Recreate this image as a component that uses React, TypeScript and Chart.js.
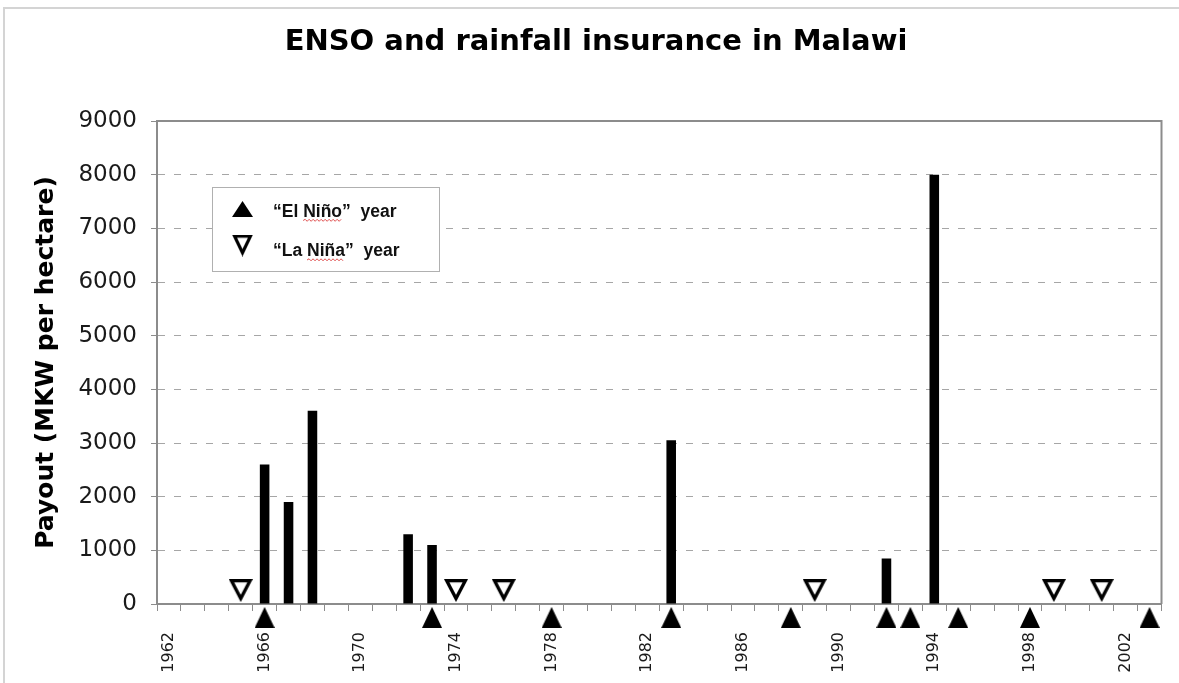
import React, { useEffect, useRef } from 'react';
import { Chart, registerables } from 'chart.js';

Chart.register(...registerables);

const categories = [
  '1962', '1963', '1964', '1965', '1966', '1967', '1968', '1969', '1970', '1971',
  '1972', '1973', '1974', '1975', '1976', '1977', '1978', '1979', '1980', '1981',
  '1982', '1983', '1984', '1985', '1986', '1987', '1988', '1989', '1990', '1991',
  '1992', '1993', '1994', '1995', '1996', '1997', '1998', '1999', '2000', '2001',
  '2002', '2003',
];
const payoutYears = ['1966', '1967', '1968', '1972', '1973', '1983', '1992', '1994'];
const payoutValues = [2600, 1900, 3600, 1300, 1100, 3050, 850, 8000];
const elNinoYears = ['1966', '1973', '1978', '1983', '1988', '1992', '1993', '1995', '1998', '2003'];
const laNinaYears = ['1965', '1974', '1976', '1989', '1999', '2001'];
const elNinoLevel = -250;
const laNinaLevel = 250;
const labelEvery = 4;

const titleText = 'ENSO and rainfall insurance in Malawi';
const yTitleText = 'Payout (MKW per hectare)';
const elNinoPre = '\u201CEl ';
const elNinoWord = 'Ni\u00F1o';
const elNinoPost = '\u201D  year';
const laNinaPre = '\u201CLa ';
const laNinaWord = 'Ni\u00F1a';
const laNinaPost = '\u201D  year';

function upTriangle(w: number, h: number): HTMLCanvasElement {
  const c = document.createElement('canvas');
  c.width = w;
  c.height = h;
  const g = c.getContext('2d')!;
  g.fillStyle = '#000';
  g.beginPath();
  g.moveTo(w / 2, 0);
  g.lineTo(w, h);
  g.lineTo(0, h);
  g.closePath();
  g.fill();
  return c;
}

function downTriangleOutline(w: number, h: number, lw: number): HTMLCanvasElement {
  const c = document.createElement('canvas');
  c.width = w;
  c.height = h;
  const g = c.getContext('2d')!;
  g.fillStyle = '#000';
  g.beginPath();
  g.moveTo(0, 0);
  g.lineTo(w, 0);
  g.lineTo(w / 2, h);
  g.closePath();
  g.fill();
  const side = Math.sqrt((w / 2) * (w / 2) + h * h);
  const s = (w + 2 * side) / 2;
  const r = (w * h) / 2 / s;
  const k = (r - lw) / r;
  const cx = w / 2;
  const cy = r;
  g.globalCompositeOperation = 'destination-out';
  g.beginPath();
  g.moveTo(cx + (0 - cx) * k, cy + (0 - cy) * k);
  g.lineTo(cx + (w - cx) * k, cy + (0 - cy) * k);
  g.lineTo(cx + (w / 2 - cx) * k, cy + (h - cy) * k);
  g.closePath();
  g.fill();
  return c;
}

function drawLegendLine(ctx: CanvasRenderingContext2D, x: number, y: number, pre: string, word: string, post: string) {
  ctx.fillText(pre + word + post, x, y);
  const x0 = x + ctx.measureText(pre).width;
  const x1 = x0 + ctx.measureText(word).width;
  ctx.save();
  ctx.strokeStyle = '#e05050';
  ctx.lineWidth = 1;
  ctx.beginPath();
  let up = true;
  ctx.moveTo(x0, y + 4);
  for (let px = x0 + 2; px <= x1; px += 2) {
    ctx.lineTo(px, y + (up ? 2.8 : 4.8));
    up = !up;
  }
  ctx.stroke();
  ctx.restore();
}

export default function App() {
  const ref = useRef<HTMLCanvasElement>(null);

  useEffect(() => {
    if (!ref.current) return;
    const elImg = upTriangle(20, 21);
    const laImg = downTriangleOutline(24, 23, 3.3);
    const legElImg = upTriangle(21, 16);
    const legLaImg = downTriangleOutline(21, 22, 3.2);

    const chartDecor = {
      id: 'chartDecor',
      beforeDatasetsDraw(chart: any) {
        const { ctx, chartArea } = chart;
        ctx.save();
        ctx.strokeStyle = '#8c8c8c';
        ctx.lineWidth = 2;
        ctx.beginPath();
        ctx.moveTo(chartArea.left, chartArea.top);
        ctx.lineTo(chartArea.right, chartArea.top);
        ctx.lineTo(chartArea.right, chartArea.bottom);
        ctx.stroke();
        ctx.restore();
      },
      afterDraw(chart: any) {
        const { ctx } = chart;
        ctx.save();
        ctx.fillStyle = '#fff';
        ctx.fillRect(212.5, 187.5, 227, 84);
        ctx.strokeStyle = '#b0b0b0';
        ctx.lineWidth = 1;
        ctx.strokeRect(212.5, 187.5, 227, 84);
        ctx.drawImage(legElImg, 242.5 - 10.5, 209 - 8);
        ctx.drawImage(legLaImg, 242.5 - 10.5, 245.5 - 11);
        ctx.fillStyle = '#111';
        ctx.font = 'bold 17.5px "Liberation Sans", Arial, Helvetica, sans-serif';
        ctx.textBaseline = 'alphabetic';
        ctx.textAlign = 'left';
        drawLegendLine(ctx, 273, 216.5, elNinoPre, elNinoWord, elNinoPost);
        drawLegendLine(ctx, 273, 256, laNinaPre, laNinaWord, laNinaPost);
        ctx.restore();
      },
    };

    const barData = categories.map((c) => {
      const i = payoutYears.indexOf(c);
      return i >= 0 ? payoutValues[i] : null;
    });
    const elData = elNinoYears.map((y) => ({ x: y, y: elNinoLevel }));
    const laData = laNinaYears.map((y) => ({ x: y, y: laNinaLevel }));

    const chart = new Chart(ref.current, {
      type: 'bar',
      data: {
        labels: categories,
        datasets: [
          {
            type: 'bar',
            label: 'Payout',
            data: barData as any,
            backgroundColor: '#000',
            borderWidth: 0,
            barPercentage: 0.4,
            categoryPercentage: 1,
            order: 2,
          },
          {
            type: 'line',
            label: 'El Nino',
            data: elData as any,
            showLine: false,
            pointStyle: elImg as any,
            pointRadius: 24,
            pointBorderWidth: 0,
            clip: false as any,
            order: 1,
          },
          {
            type: 'line',
            label: 'La Nina',
            data: laData as any,
            showLine: false,
            pointStyle: laImg as any,
            pointRadius: 24,
            pointBorderWidth: 0,
            clip: false as any,
            order: 1,
          },
        ],
      },
      options: {
        responsive: false,
        animation: false,
        layout: { autoPadding: false, padding: { left: 30.5, right: 17.5, top: 0, bottom: 0 } },
        plugins: {
          legend: { display: false },
          tooltip: { enabled: false },
          title: {
            display: true,
            text: titleText,
            color: '#000',
            font: { family: '"DejaVu Sans", sans-serif', size: 29, weight: 'bold', lineHeight: 1.2 },
            padding: { top: 24.6, bottom: 61.6 },
          },
        },
        scales: {
          x: {
            type: 'category',
            offset: true,
            grid: {
              display: true,
              drawOnChartArea: false,
              drawTicks: true,
              tickLength: 7,
              tickColor: '#8c8c8c',
              offset: true,
              color: '#8c8c8c',
            },
            border: { display: true, color: '#8c8c8c', width: 2 },
            ticks: {
              autoSkip: false,
              maxRotation: 90,
              minRotation: 90,
              padding: 21,
              color: '#1a1a1a',
              font: { family: '"DejaVu Sans", sans-serif', size: 16 },
              callback: (_v: any, i: number) => (i % labelEvery === 0 ? categories[i] : ''),
            },
            afterFit: (scale: any) => {
              scale.height = 79;
              scale.paddingRight = 0;
              scale.paddingLeft = 0;
            },
          },
          y: {
            min: 0,
            max: 9000,
            grid: {
              color: '#a6a6a6',
              lineWidth: 1,
              drawTicks: true,
              tickLength: 6,
              tickColor: '#8c8c8c',
              tickBorderDash: [],
            },
            border: { display: true, color: '#8c8c8c', width: 2, dash: [7, 9] },
            ticks: {
              stepSize: 1000,
              padding: 14,
              color: '#1a1a1a',
              font: { family: '"DejaVu Sans", sans-serif', size: 23 },
              callback: (v: any) => String(v),
            },
            title: {
              display: true,
              text: yTitleText,
              color: '#000',
              font: { family: '"DejaVu Sans", sans-serif', size: 25, weight: 'bold', lineHeight: 1.2 },
              padding: { top: 1, bottom: 0 },
            },
            afterFit: (scale: any) => {
              scale.width = 126.5;
            },
          },
        },
      },
      plugins: [chartDecor],
    });
    return () => chart.destroy();
  }, []);

  return (
    <div style={{ position: 'fixed', left: 0, top: 0, width: 1179, height: 683, background: '#fff', overflow: 'hidden' }}>
      <canvas ref={ref} width={1179} height={683} style={{ position: 'absolute', left: 0, top: 0 }} />
      <div
        style={{
          position: 'absolute',
          left: 3,
          top: 7,
          width: 1200,
          height: 700,
          borderLeft: '2px solid #d4d4d4',
          borderTop: '2px solid #d4d4d4',
          pointerEvents: 'none',
        }}
      />
    </div>
  );
}
